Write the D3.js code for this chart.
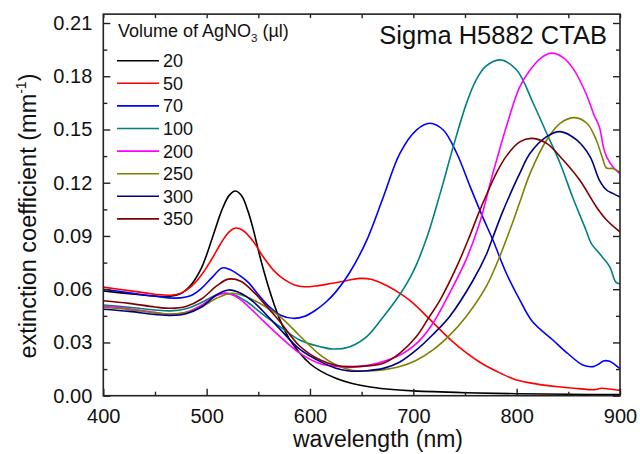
<!DOCTYPE html>
<html lang="en">
<head>
<meta charset="UTF-8">
<title>Extinction spectra</title>
<script src="https://d3js.org/d3.v7.min.js"></script>
<style>
  body { margin: 0; background: #fff; }
  svg text { font-family: "Liberation Sans", Arial, sans-serif; fill: #111; }
</style>
</head>
<body>
<div id="chart"></div>
<script>
// legend labels (volume of AgNO3, µl) and line colours
const volumes = ["20", "50", "70", "100", "200", "250", "300", "350"];
const colors = ["#000000", "#ff0000", "#0000ff", "#008080", "#ff00ff", "#808000", "#000080", "#800000"];

// spectra, [wavelength nm, extinction mm^-1]
const s20 = [[400,0.0590],[425,0.0575],[450,0.0562],[465,0.0560],[475,0.0575],[485,0.0625],[495,0.0720],[505,0.0880],[515,0.1050],[522,0.1130],[528,0.1153],[534,0.1125],[540,0.1040],[545,0.0940],[550,0.0820],[555,0.0710],[560,0.0610],[565,0.0520],[570,0.0440],[580,0.0320],[590,0.0240],[600,0.0180],[610,0.0140],[625,0.0098],[640,0.0070],[660,0.0048],[680,0.0035],[700,0.0027],[750,0.0017],[800,0.0011],[850,0.0008],[900,0.0006]];
const s50 = [[400,0.0612],[425,0.0592],[450,0.0572],[465,0.0566],[475,0.0578],[485,0.0615],[495,0.0680],[505,0.0770],[515,0.0870],[522,0.0925],[528,0.0945],[535,0.0932],[545,0.0870],[555,0.0780],[565,0.0705],[575,0.0655],[585,0.0624],[595,0.0614],[605,0.0618],[620,0.0632],[635,0.0648],[648,0.0661],[660,0.0655],[675,0.0618],[690,0.0565],[700,0.0520],[716,0.0430],[738,0.0305],[764,0.0190],[785,0.0125],[800,0.0088],[820,0.0065],[840,0.0050],[860,0.0040],[875,0.0034],[882,0.0042],[890,0.0038],[900,0.0030]];
const s70 = [[400,0.0600],[425,0.0580],[450,0.0560],[470,0.0550],[485,0.0565],[495,0.0605],[505,0.0665],[515,0.0720],[522,0.0712],[530,0.0685],[540,0.0640],[550,0.0570],[560,0.0505],[571,0.0455],[584,0.0436],[595,0.0448],[605,0.0480],[615,0.0525],[625,0.0585],[638,0.0690],[655,0.0877],[671,0.1120],[687,0.1366],[703,0.1497],[716,0.1535],[729,0.1497],[742,0.1366],[755,0.1178],[767,0.1009],[777,0.0877],[790,0.0690],[803,0.0540],[815,0.0420],[835,0.0314],[850,0.0235],[864,0.0173],[874,0.0164],[880,0.0180],[884,0.0196],[890,0.0194],[895,0.0175],[900,0.0152]];
const s100 = [[400,0.0511],[425,0.0498],[450,0.0483],[465,0.0478],[480,0.0490],[495,0.0525],[508,0.0565],[518,0.0577],[528,0.0565],[540,0.0525],[555,0.0455],[571,0.0389],[590,0.0314],[610,0.0276],[622,0.0263],[638,0.0275],[655,0.0333],[671,0.0445],[687,0.0570],[700,0.0700],[713,0.0890],[726,0.1140],[738,0.1390],[751,0.1640],[760,0.1770],[770,0.1855],[784,0.1892],[800,0.1835],[816,0.1648],[829,0.1479],[842,0.1310],[854,0.1121],[867,0.0934],[872,0.0860],[880,0.0802],[890,0.0727],[896,0.0640],[900,0.0630]];
const s200 = [[400,0.0505],[425,0.0490],[450,0.0470],[465,0.0458],[480,0.0470],[495,0.0510],[508,0.0560],[518,0.0578],[528,0.0560],[540,0.0505],[555,0.0420],[571,0.0333],[590,0.0240],[610,0.0180],[625,0.0166],[641,0.0160],[660,0.0175],[687,0.0229],[705,0.0305],[719,0.0408],[735,0.0577],[751,0.0765],[764,0.0970],[777,0.1253],[790,0.1516],[803,0.1740],[813,0.1835],[824,0.1905],[834,0.1930],[845,0.1905],[855,0.1840],[867,0.1704],[875,0.1580],[880,0.1516],[884,0.1400],[887,0.1347],[893,0.1290],[900,0.1250]];
const s250 = [[400,0.0498],[425,0.0485],[450,0.0467],[465,0.0460],[480,0.0468],[495,0.0500],[510,0.0550],[524,0.0577],[535,0.0565],[550,0.0525],[571,0.0445],[590,0.0338],[610,0.0229],[625,0.0175],[639,0.0145],[655,0.0139],[670,0.0145],[687,0.0164],[703,0.0200],[719,0.0258],[735,0.0340],[751,0.0445],[771,0.0620],[784,0.0790],[790,0.0880],[797,0.0990],[803,0.1090],[813,0.1253],[829,0.1441],[842,0.1535],[856,0.1567],[868,0.1535],[877,0.1441],[883,0.1340],[887,0.1283],[893,0.1280],[900,0.1260]];
const s300 = [[400,0.0487],[425,0.0475],[450,0.0458],[465,0.0452],[480,0.0462],[495,0.0500],[510,0.0570],[521,0.0596],[532,0.0580],[545,0.0530],[558,0.0455],[571,0.0375],[590,0.0262],[610,0.0192],[625,0.0155],[638,0.0139],[655,0.0141],[671,0.0154],[687,0.0190],[703,0.0258],[719,0.0345],[735,0.0445],[758,0.0652],[771,0.0800],[776,0.0877],[786,0.1030],[797,0.1178],[803,0.1253],[813,0.1366],[829,0.1460],[842,0.1488],[858,0.1441],[871,0.1347],[880,0.1215],[887,0.1159],[893,0.1140],[900,0.1120]];
const s350 = [[400,0.0535],[425,0.0520],[450,0.0500],[465,0.0493],[480,0.0503],[495,0.0545],[510,0.0620],[521,0.0657],[533,0.0645],[547,0.0575],[560,0.0490],[571,0.0417],[590,0.0280],[610,0.0201],[625,0.0172],[638,0.0164],[655,0.0168],[671,0.0183],[687,0.0240],[703,0.0333],[715,0.0440],[726,0.0540],[742,0.0727],[753,0.0877],[764,0.1040],[771,0.1135],[780,0.1250],[790,0.1350],[803,0.1430],[814,0.1450],[829,0.1422],[845,0.1328],[861,0.1215],[877,0.1065],[887,0.0990],[900,0.0923]];
const spectra = [s20, s50, s70, s100, s200, s250, s300, s350];

// tick values
const xTicks = [400, 500, 600, 700, 800, 900];
const xMinor = [450, 550, 650, 750, 850];
const yTicks = [0, 0.03, 0.06, 0.09, 0.12, 0.15, 0.18, 0.21];
const yMinor = [0.015, 0.045, 0.075, 0.105, 0.135, 0.165, 0.195];

const width = 640, height = 454;
const x = d3.scaleLinear().domain([400, 900]).range([103.3, 620]);
const y = d3.scaleLinear().domain([0, 0.21]).range([395.7, 23]);
const yTop = y(0.215);

const svg = d3.select("#chart").append("svg")
    .attr("width", width)
    .attr("height", height);

svg.append("clipPath").attr("id", "clip")
  .append("rect")
    .attr("x", x(400)).attr("y", yTop)
    .attr("width", x(900) - x(400)).attr("height", y(0) - yTop);

// curves
const line = d3.line()
    .x(d => x(d[0]))
    .y(d => y(d[1]))
    .curve(d3.curveCatmullRom.alpha(0.5));

svg.append("g").attr("clip-path", "url(#clip)")
  .selectAll("path")
  .data(spectra)
  .join("path")
    .attr("d", line)
    .attr("fill", "none")
    .attr("stroke", (d, i) => colors[i])
    .attr("stroke-width", 1.6)
    .attr("stroke-linejoin", "round");

// axes, ticks pointing inward
const tickStyle = g => {
  g.select(".domain").remove();
  g.selectAll("line").attr("stroke", "#222").attr("stroke-width", 1.4);
  g.selectAll("text").attr("font-size", 20).attr("fill", "#111")
    .attr("font-family", "Liberation Sans, Arial, sans-serif");
};

svg.append("g").attr("transform", `translate(0,${y(0)})`)
  .call(d3.axisBottom(x).tickValues(xTicks).tickSize(-7).tickPadding(13).tickFormat(d3.format("d")))
  .call(tickStyle);
svg.append("g").attr("transform", `translate(0,${y(0)})`)
  .call(d3.axisBottom(x).tickValues(xMinor).tickSize(-4).tickFormat(""))
  .call(tickStyle);
svg.append("g").attr("transform", `translate(0,${yTop})`)
  .call(d3.axisTop(x).tickValues(xTicks.concat(xMinor)).tickSize(-4).tickFormat(""))
  .call(tickStyle);

svg.append("g").attr("transform", `translate(${x(400)},0)`)
  .call(d3.axisLeft(y).tickValues(yTicks).tickSize(-7).tickPadding(11).tickFormat(d3.format(".2f")))
  .call(tickStyle);
svg.append("g").attr("transform", `translate(${x(400)},0)`)
  .call(d3.axisLeft(y).tickValues(yMinor).tickSize(-4).tickFormat(""))
  .call(tickStyle);
svg.append("g").attr("transform", `translate(${x(900)},0)`)
  .call(d3.axisRight(y).tickValues(yTicks).tickSize(-7).tickFormat(""))
  .call(tickStyle);
svg.append("g").attr("transform", `translate(${x(900)},0)`)
  .call(d3.axisRight(y).tickValues(yMinor).tickSize(-4).tickFormat(""))
  .call(tickStyle);

// frame
svg.append("rect")
    .attr("x", x(400)).attr("y", yTop)
    .attr("width", x(900) - x(400)).attr("height", y(0) - yTop)
    .attr("fill", "none")
    .attr("stroke", "#222")
    .attr("stroke-width", 1.6);

// axis titles
svg.append("text")
    .attr("x", 378).attr("y", 447)
    .attr("text-anchor", "middle")
    .attr("font-size", 23)
    .text("wavelength (nm)");

const yt = svg.append("text")
    .attr("transform", "translate(36,216) rotate(-90)")
    .attr("text-anchor", "middle")
    .attr("font-size", 23.5);
yt.append("tspan").text("extinction coefficient (mm");
yt.append("tspan").attr("font-size", 14).attr("dy", -10).text("-1");
yt.append("tspan").attr("dy", 10).text(")");

// sample label
svg.append("text")
    .attr("x", 607).attr("y", 44)
    .attr("text-anchor", "end")
    .attr("font-size", 25.5)
    .text("Sigma H5882 CTAB");

// legend
const lt = svg.append("text")
    .attr("x", 118).attr("y", 37)
    .attr("font-size", 18);
lt.append("tspan").text("Volume of AgNO");
lt.append("tspan").attr("font-size", 11.5).attr("dy", 5).text("3");
lt.append("tspan").attr("dy", -5).text(" (\u00b5l)");

const legend = svg.append("g")
  .selectAll("g")
  .data(volumes)
  .join("g")
    .attr("transform", (d, i) => `translate(117,${60.7 + i * 22.6})`);

legend.append("line")
    .attr("x1", 0).attr("x2", 42)
    .attr("stroke", (d, i) => colors[i])
    .attr("stroke-width", 1.6);

legend.append("text")
    .attr("x", 46).attr("dy", "0.36em")
    .attr("font-size", 18)
    .text(d => d);
</script>
</body>
</html>
